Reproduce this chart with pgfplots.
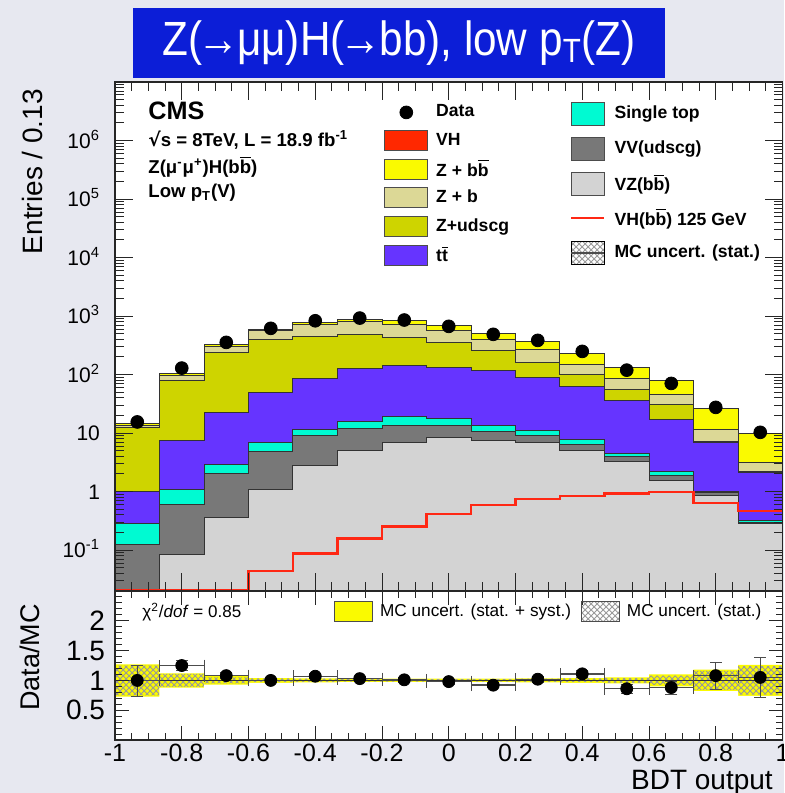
\documentclass[border=0pt]{standalone}
\usepackage{fontspec}
\setmainfont{Liberation Sans}
\newfontfamily\dejavu{DejaVu Sans}
\usepackage{pgfplots}
\usepackage{pgfplotstable}
\pgfplotsset{compat=1.18}
\usetikzlibrary{patterns}

\definecolor{bgcol}{RGB}{231,232,240}
\definecolor{titleblue}{RGB}{12,30,215}
\definecolor{cVH}{RGB}{255,40,0}
\definecolor{cZbb}{RGB}{250,250,0}
\definecolor{cZb}{RGB}{220,216,150}
\definecolor{cZudscg}{RGB}{206,212,0}
\definecolor{ctt}{RGB}{102,52,255}
\definecolor{cST}{RGB}{0,250,210}
\definecolor{cVV}{RGB}{120,120,120}
\definecolor{cVZ}{RGB}{211,211,211}
\definecolor{cSig}{RGB}{255,40,20}

\newcommand\bbar{\ensuremath{\overline{\hbox{b}}}}
\newcommand\tbar{\ensuremath{\overline{\hbox{t}}}}

\pgfplotsset{
  boxA/.style={legend image code/.code={\draw[##1] (0pt,-5pt) rectangle (21.5pt,5pt);}},
  boxB/.style={legend image code/.code={\draw[##1] (0pt,-5.75pt) rectangle (16.5pt,5.75pt);}},
  boxC/.style={legend image code/.code={\draw[##1] (0pt,-5pt) rectangle (19pt,5pt);}},
  dataleg/.style={legend image code/.code={\path[draw=none,fill=none] (0pt,-5pt) rectangle (21.5pt,5pt);
      \draw[mark repeat=2,mark phase=2,##1] plot coordinates {(0pt,0pt)(10.75pt,0pt)(21.5pt,0pt)};}},
  sigleg/.style={legend image code/.code={\path[draw=none,fill=none] (0pt,-5.75pt) rectangle (16.5pt,5.75pt);
      \draw[##1] (0pt,0pt) -- (16.5pt,0pt);}},
  hatchleg/.style={legend image code/.code={\fill[pattern=crosshatch, pattern color=black!40] (0pt,-5.75pt) rectangle (16.5pt,5.75pt);
      \draw[black!70,line width=0.8pt] (0pt,0pt) -- (16.5pt,0pt);}},
}

% cumulative stack levels (bin left edges; last row closes last bin)
% L1=VZ(bb) L2=+VV(udscg) L3=+single top L4=+ttbar L5=+Z+udscg L6=+Z+b L7=+Z+bb (+VH)
\pgfplotstableread{
x L1 L2 L3 L4 L5 L6 L7 sig
-1 0.01 0.127 0.286 1.0 12.5 13.6 14.3 0.0208
-0.8667 0.0855 0.61 1.10 7.4 80.5 98 106 0.0208
-0.7333 0.36 2.07 2.87 22.6 239 302 330 0.0208
-0.6 1.07 4.79 6.9 49.6 393 560 600 0.0443
-0.4667 2.76 9.0 11.7 87 445 710 790 0.0878
-0.3333 4.98 12.0 15.8 128 492 800 890 0.158
-0.2 6.9 13.7 19.3 141 433 730 830 0.254
-0.0667 8.4 13.3 18.0 133 355 560 690 0.42
0.0667 7.4 10.7 13.7 119 254 405 506 0.588
0.2 6.9 9.2 11.2 89.5 162 265 370 0.745
0.3333 5.0 6.3 7.9 62 99 150 233 0.83
0.4667 3.23 4.0 4.55 36 56.5 86 133 0.93
0.6 1.55 1.92 2.18 17.4 31.1 46.4 79.5 0.99
0.7333 0.86 0.98 1.0 6.9 7.1 11.5 26.5 0.63
0.8667 0.286 0.30 0.317 2.13 2.18 3.1 9.8 0.47
1 0.286 0.30 0.317 2.13 2.18 3.1 9.8 0.47
}\stack

\pgfplotstableread{
x y
-0.9333 15.5
-0.8 129
-0.6667 355
-0.5333 617
-0.4 830
-0.2667 924
-0.1333 855
0 667
0.1333 487
0.2667 384
0.4 249
0.5333 119
0.6667 70.6
0.8 27.5
0.9333 10.3
}\data

\pgfplotstableread{
x r ex ey
-0.9333 1.00 0.0667 0.26
-0.8 1.25 0.0667 0.08
-0.6667 1.08 0.0667 0.05
-0.5333 1.00 0.0667 0.04
-0.4 1.07 0.0667 0.04
-0.2667 1.03 0.0667 0.035
-0.1333 1.01 0.0667 0.035
0 0.98 0.0667 0.04
0.1333 0.92 0.0667 0.045
0.2667 1.02 0.0667 0.05
0.4 1.11 0.0667 0.06
0.5333 0.86 0.0667 0.07
0.6667 0.88 0.0667 0.11
0.8 1.08 0.0667 0.23
0.9333 1.05 0.0667 0.34
}\ratiodata

\pgfplotstableread{
x syshi syslo sthi stlo
-1 1.27 0.73 1.25 0.75
-0.8667 1.12 0.88 1.11 0.89
-0.7333 1.07 0.93 1.05 0.95
-0.6 1.04 0.96 1.03 0.97
-0.4667 1.035 0.965 1.025 0.975
-0.3333 1.03 0.97 1.02 0.98
-0.2 1.03 0.97 1.02 0.98
-0.0667 1.03 0.97 1.02 0.98
0.0667 1.03 0.97 1.02 0.98
0.2 1.035 0.965 1.025 0.975
0.3333 1.04 0.96 1.03 0.97
0.4667 1.05 0.95 1.04 0.96
0.6 1.10 0.90 1.08 0.92
0.7333 1.18 0.82 1.16 0.84
0.8667 1.26 0.74 1.24 0.76
1 1.26 0.74 1.24 0.76
}\bands

\begin{document}
\begin{tikzpicture}
\fill[bgcol] (0,0) rectangle (392pt,-396.5pt);

% title box
\node[fill=titleblue, minimum width=266pt, minimum height=35pt, inner sep=0pt, text=white,
      font=\fontsize{24}{28}\selectfont] at (199.5pt,-21.5pt)
      {\scalebox{0.88}[1]{Z(\kern-0.12em→\kern-0.05emμμ)H(\kern-0.12em→\kern-0.05embb), low p\textsubscript{T}(Z)}};

\pgfplotsset{every axis/.append style={
  scale only axis, width=333.75pt,
  xmin=-1, xmax=1,
  tick pos=both, tick align=inside,
  axis background/.style={fill=white},
  axis line style={line width=0.6pt, black!85},
  every tick/.style={black!85, line width=0.5pt},
  axis on top,
}}

% ---------------- main panel ----------------
\begin{axis}[
  at={(57.5pt,-41pt)}, anchor=north west, height=254.5pt,
  ymode=log, ymin=0.02, ymax=1e7, log origin=infty,
  xtick={-1,-0.8,-0.6,-0.4,-0.2,0,0.2,0.4,0.6,0.8,1}, xticklabels={},
  minor x tick num=3,
  ytick={0.1,1,10,100,1000,10000,100000,1000000,10000000},
  yticklabels={10\textsuperscript{-1},1,10,10\textsuperscript{2},10\textsuperscript{3},10\textsuperscript{4},10\textsuperscript{5},10\textsuperscript{6},},
  minor ytick={0.02,0.03,0.04,0.05,0.06,0.07,0.08,0.09,
    0.2,0.3,0.4,0.5,0.6,0.7,0.8,0.9,
    2,3,4,5,6,7,8,9,
    20,30,40,50,60,70,80,90,
    200,300,400,500,600,700,800,900,
    2e3,3e3,4e3,5e3,6e3,7e3,8e3,9e3,
    2e4,3e4,4e4,5e4,6e4,7e4,8e4,9e4,
    2e5,3e5,4e5,5e5,6e5,7e5,8e5,9e5,
    2e6,3e6,4e6,5e6,6e6,7e6,8e6,9e6},
  major tick length=9pt, minor tick length=4.5pt,
  yticklabel style={font=\fontsize{10.5}{12}\selectfont, anchor=base east, yshift=-3.8pt, xshift=-4pt},
  ylabel={Entries / 0.13},
  every axis y label/.style={at={(axis description cs:-0.1243,1)}, rotate=90, anchor=east,
     font=\fontsize{14}{16}\selectfont},
  legend style={at={(rel axis cs:0.403,0.9607)}, anchor=north west, draw=none, fill=none,
     inner sep=0pt, row sep=3.9pt, font=\bfseries\fontsize{8.8}{10.5}\selectfont,
     nodes={inner sep=0pt},
     /tikz/every odd column/.append style={column sep=4pt}},
  legend cell align=left,
]
\addplot[const plot mark left, fill=cVH, draw=black!80, line width=0.5pt, forget plot] table[x=x,y=L7]{\stack} \closedcycle;
\addplot[const plot mark left, fill=cZbb, draw=black!80, line width=0.5pt, forget plot] table[x=x,y=L7]{\stack} \closedcycle;
\addplot[const plot mark left, fill=cZb, draw=black!80, line width=0.5pt, forget plot] table[x=x,y=L6]{\stack} \closedcycle;
\addplot[const plot mark left, fill=cZudscg, draw=black!80, line width=0.5pt, forget plot] table[x=x,y=L5]{\stack} \closedcycle;
\addplot[const plot mark left, fill=ctt, draw=black!80, line width=0.5pt, forget plot] table[x=x,y=L4]{\stack} \closedcycle;
\addplot[const plot mark left, fill=cST, draw=black!80, line width=0.5pt, forget plot] table[x=x,y=L3]{\stack} \closedcycle;
\addplot[const plot mark left, fill=cVV, draw=black!80, line width=0.5pt, forget plot] table[x=x,y=L2]{\stack} \closedcycle;
\addplot[const plot mark left, fill=cVZ, draw=black!80, line width=0.5pt, forget plot] table[x=x,y=L1]{\stack} \closedcycle;
\addplot[const plot mark left, draw=cSig, line width=1.1pt, forget plot] table[x=x,y=sig]{\stack};
\addplot[only marks, mark=*, mark size=3.2pt, black, forget plot] table[x=x,y=y]{\data};

\addlegendimage{dataleg, only marks, mark=*, mark size=3.2pt, black}
\addlegendentry{Data}
\addlegendimage{boxA, fill=cVH, draw=black!70}
\addlegendentry{VH}
\addlegendimage{boxA, fill=cZbb, draw=black!70}
\addlegendentry{Z + b\bbar}
\addlegendimage{boxA, fill=cZb, draw=black!70}
\addlegendentry{Z + b}
\addlegendimage{boxA, fill=cZudscg, draw=black!70}
\addlegendentry{Z+udscg}
\addlegendimage{boxA, fill=ctt, draw=black!70}
\addlegendentry{t\tbar}
\end{axis}

% second legend column (hidden axis)
\begin{axis}[
  at={(57.5pt,-41pt)}, anchor=north west, height=254.5pt,
  hide axis, ymin=0, ymax=1, axis background/.style={},
  legend style={at={(rel axis cs:0.6816,0.9617)}, anchor=north west, draw=none, fill=none,
     inner sep=0pt, row sep=5.6pt, font=\bfseries\fontsize{8.8}{10.5}\selectfont,
     nodes={inner sep=0pt},
     /tikz/every odd column/.append style={column sep=4.5pt}},
  legend cell align=left,
]
\addlegendimage{boxB, fill=cST, draw=black!70}
\addlegendentry{Single top}
\addlegendimage{boxB, fill=cVV, draw=black!70}
\addlegendentry{VV(udscg)}
\addlegendimage{boxB, fill=cVZ, draw=black!70}
\addlegendentry{VZ(b\bbar)}
\addlegendimage{sigleg, draw=cSig, line width=1.1pt}
\addlegendentry{VH(b\bbar) 125 GeV}
\addlegendimage{hatchleg}
\addlegendentry{MC uncert. (stat.)}
\end{axis}

% CMS labels
\node[anchor=west, font=\bfseries\fontsize{12.6}{14}\selectfont, inner sep=0pt] at (74pt,-55.5pt) {CMS};
\node[anchor=west, font=\bfseries\fontsize{9.3}{11}\selectfont, inner sep=0pt] at (74pt,-70pt)
   {{\dejavu √}s = 8TeV, L = 18.9 fb\textsuperscript{-1}};
\node[anchor=west, font=\bfseries\fontsize{9.3}{11}\selectfont, inner sep=0pt] at (74pt,-83.5pt)
   {Z(μ\textsuperscript{-}μ\textsuperscript{+})H(b\bbar)};
\node[anchor=west, font=\bfseries\fontsize{9.3}{11}\selectfont, inner sep=0pt] at (74pt,-96.5pt)
   {Low p\textsubscript{T}(V)};

% ---------------- ratio panel ----------------
\begin{axis}[
  at={(57.5pt,-295.5pt)}, anchor=north west, height=74.5pt,
  ymin=0, ymax=2.5,
  xtick={-1,-0.8,-0.6,-0.4,-0.2,0,0.2,0.4,0.6,0.8,1},
  xticklabels={-1,-0.8,-0.6,-0.4,-0.2,0,0.2,0.4,0.6,0.8,1},
  minor x tick num=3,
  ytick={0,0.5,1,1.5,2,2.5}, yticklabels={,0.5,1,1.5,2,},
  minor y tick num=4,
  major tick length=7pt, minor tick length=3.5pt,
  xticklabel style={font=\fontsize{12.5}{14}\selectfont, yshift=1.5pt},
  yticklabel style={font=\fontsize{14}{16}\selectfont, xshift=-1.5pt},
  xlabel={BDT output},
  every axis x label/.style={at={(axis description cs:0.996,-0.29)}, anchor=east,
     font=\fontsize{14}{16}\selectfont},
  ylabel={Data/MC},
  every axis y label/.style={at={(axis description cs:-0.127,0.96)}, rotate=90, anchor=east,
     font=\fontsize{13.5}{15}\selectfont},
  legend columns=2,
  legend style={at={(rel axis cs:0.328,0.86)}, anchor=west, draw=none, fill=none,
     inner sep=0pt, font=\fontsize{8.6}{10}\selectfont, nodes={inner sep=0pt},
     /tikz/every odd column/.append style={column sep=3.5pt},
     /tikz/every even column/.append style={column sep=5pt}},
]
% uncertainty bands built from filled steps: yellow (stat+syst) with hatched (stat) inside
\addplot[const plot mark left, fill=cZbb, draw=none, forget plot] table[x=x,y=syshi]{\bands} \closedcycle;
\addplot[const plot mark left, pattern=crosshatch, pattern color=black!40, draw=none, forget plot] table[x=x,y=sthi]{\bands} \closedcycle;
\addplot[const plot mark left, fill=cZbb, draw=none, forget plot] table[x=x,y=stlo]{\bands} \closedcycle;
\addplot[const plot mark left, fill=white, draw=none, forget plot] table[x=x,y=syslo]{\bands} \closedcycle;
\addplot[black!80, line width=0.6pt, forget plot] coordinates {(-1,1) (1,1)};
\addplot[only marks, mark=*, mark size=3pt, black, forget plot,
   error bars/.cd, x dir=both, x explicit, y dir=both, y explicit,
   error bar style={black!70, line width=0.7pt}]
   table[x=x, y=r, x error=ex, y error=ey]{\ratiodata};

\addlegendimage{boxC, fill=cZbb, draw=black!70}
\addlegendentry{MC uncert. (stat. + syst.)}
\addlegendimage{boxC, pattern=crosshatch, pattern color=black!40, draw=black!70}
\addlegendentry{MC uncert. (stat.)}
\end{axis}

\node[anchor=west, font=\fontsize{8.5}{10}\selectfont, inner sep=0pt] at (71pt,-306pt)
   {χ\textsuperscript{2}/\textit{dof} = 0.85};

\pgfresetboundingbox
\path[use as bounding box] (0,0) rectangle (392pt,-396.5pt);
\end{tikzpicture}
\end{document}
